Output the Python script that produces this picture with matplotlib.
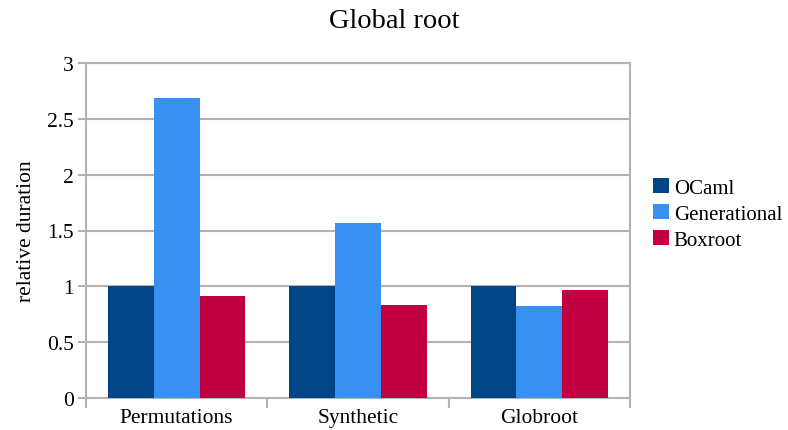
import matplotlib
matplotlib.use('Agg')
import matplotlib.pyplot as plt
import numpy as np

categories = ["Permutations", "Synthetic", "Globroot"]
series = ["OCaml", "Generational", "Boxroot"]
ocaml = [1.0, 1.0, 1.0]
generational = [2.69, 1.57, 0.82]
boxroot = [0.91, 0.83, 0.97]
colors = ["#004586", "#3891f0", "#c00042"]
yticks = [0, 0.5, 1, 1.5, 2, 2.5, 3]
ytick_labels = ["0", "0.5", "1", "1.5", "2", "2.5", "3"]

plt.rcParams['font.family'] = ['Liberation Serif', 'DejaVu Serif']
grid_col = "#b3b3b3"

fig = plt.figure(figsize=(7.88, 4.31), dpi=100)
ax = fig.add_axes([86 / 788, 32 / 431, 544 / 788, 335 / 431])

x = np.arange(len(categories))
w = 0.253
for i, (vals, name) in enumerate(zip([ocaml, generational, boxroot], series)):
    ax.bar(x + (i - 1) * w, vals, width=w, color=colors[i], label=name, zorder=3)

ax.set_xlim(-0.5, len(categories) - 0.5)
ax.set_ylim(0, 3)
ax.set_yticks(yticks)
ax.set_yticklabels(ytick_labels, fontsize=15.5)
ax.yaxis.grid(True, color=grid_col, linewidth=1.5, zorder=0)

# category labels centred, tick marks on the group boundaries
ax.set_xticks(x)
ax.set_xticklabels(categories, fontsize=15.5)
ax.tick_params(axis='x', length=0, pad=7)
ax.set_xticks(np.arange(len(categories) + 1) - 0.5, minor=True)
ax.tick_params(axis='x', which='minor', length=7, width=1.5, color=grid_col)
ax.tick_params(axis='y', length=6, width=1.5, color=grid_col, pad=3)

for s in ax.spines.values():
    s.set_color(grid_col)
    s.set_linewidth(1.5)

ax.set_ylabel("relative duration", fontsize=15.5, labelpad=8)
fig.suptitle("Global root", fontsize=20.5, y=0.98)

fig.legend(loc='center left', bbox_to_anchor=(653 / 788, 216 / 431), frameon=False,
           fontsize=15, handlelength=0.75, handleheight=0.75, handletextpad=0.25,
           labelspacing=0.3, borderaxespad=0, borderpad=0)

fig.savefig("out.png", dpi=100)
